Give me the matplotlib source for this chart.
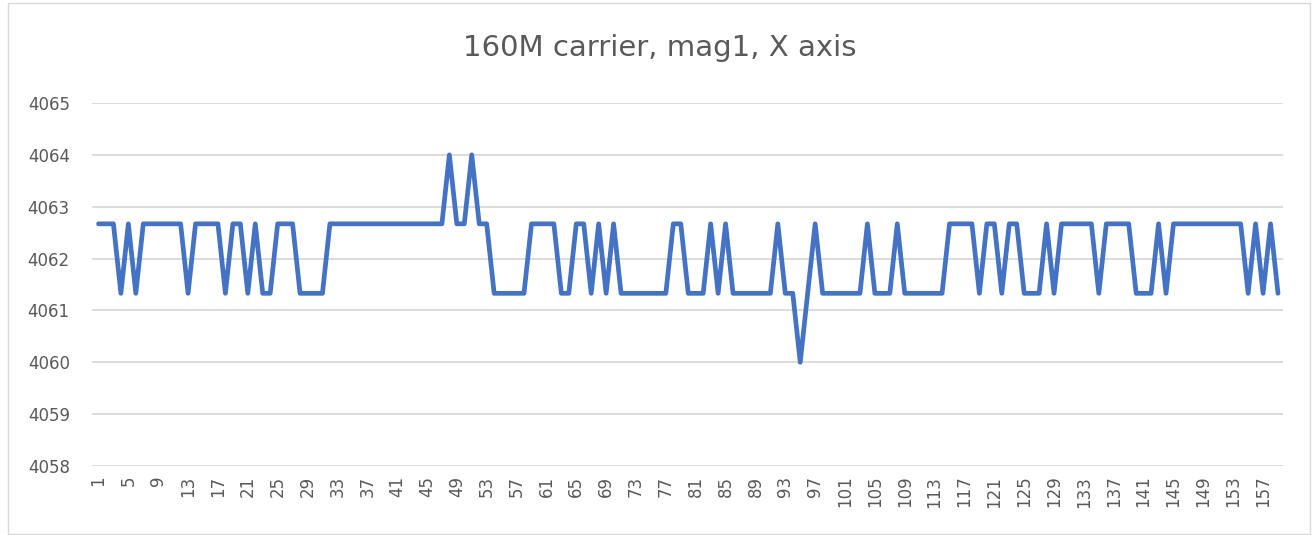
import numpy as np
import matplotlib
matplotlib.use("Agg")
import matplotlib.pyplot as plt
from matplotlib.patches import Rectangle

# readings of mag1 X axis, one per sample (1..159)
mag_x = [
    4062.67, 4062.67, 4062.67, 4061.33, 4062.67, 4061.33, 4062.67, 4062.67, 4062.67, 4062.67,
    4062.67, 4062.67, 4061.33, 4062.67, 4062.67, 4062.67, 4062.67, 4061.33, 4062.67, 4062.67,
    4061.33, 4062.67, 4061.33, 4061.33, 4062.67, 4062.67, 4062.67, 4061.33, 4061.33, 4061.33,
    4061.33, 4062.67, 4062.67, 4062.67, 4062.67, 4062.67, 4062.67, 4062.67, 4062.67, 4062.67,
    4062.67, 4062.67, 4062.67, 4062.67, 4062.67, 4062.67, 4062.67, 4064.00, 4062.67, 4062.67,
    4064.00, 4062.67, 4062.67, 4061.33, 4061.33, 4061.33, 4061.33, 4061.33, 4062.67, 4062.67,
    4062.67, 4062.67, 4061.33, 4061.33, 4062.67, 4062.67, 4061.33, 4062.67, 4061.33, 4062.67,
    4061.33, 4061.33, 4061.33, 4061.33, 4061.33, 4061.33, 4061.33, 4062.67, 4062.67, 4061.33,
    4061.33, 4061.33, 4062.67, 4061.33, 4062.67, 4061.33, 4061.33, 4061.33, 4061.33, 4061.33,
    4061.33, 4062.67, 4061.33, 4061.33, 4060.00, 4061.33, 4062.67, 4061.33, 4061.33, 4061.33,
    4061.33, 4061.33, 4061.33, 4062.67, 4061.33, 4061.33, 4061.33, 4062.67, 4061.33, 4061.33,
    4061.33, 4061.33, 4061.33, 4061.33, 4062.67, 4062.67, 4062.67, 4062.67, 4061.33, 4062.67,
    4062.67, 4061.33, 4062.67, 4062.67, 4061.33, 4061.33, 4061.33, 4062.67, 4061.33, 4062.67,
    4062.67, 4062.67, 4062.67, 4062.67, 4061.33, 4062.67, 4062.67, 4062.67, 4062.67, 4061.33,
    4061.33, 4061.33, 4062.67, 4061.33, 4062.67, 4062.67, 4062.67, 4062.67, 4062.67, 4062.67,
    4062.67, 4062.67, 4062.67, 4062.67, 4061.33, 4062.67, 4061.33, 4062.67, 4061.33,
]
samples = list(range(1, len(mag_x) + 1))
y_ticks = [4058, 4059, 4060, 4061, 4062, 4063, 4064, 4065]
title = "160M carrier, mag1, X axis"

W, H = 1312, 535
fig = plt.figure(figsize=(W / 100, H / 100), dpi=100)
fig.patch.set_facecolor("white")

# chart area border
fig.patches.append(Rectangle((8 / W, 1 / H), (W - 10) / W, (H - 4) / H,
                             transform=fig.transFigure, fill=False,
                             edgecolor="#D9D9D9", linewidth=1))

ax = fig.add_axes([92 / W, (H - 466) / H, (1283 - 92) / W, (466 - 103) / H])

ax.plot(samples, mag_x, color="#4472C4", linewidth=3.4,
        solid_joinstyle="round", solid_capstyle="round", zorder=3)

ax.set_ylim(4058, 4065)
ax.set_yticks(y_ticks)
ax.set_xlim(0.13, 159.67)
ax.set_xticks(samples[::4])
ax.set_xticklabels([str(s) for s in samples[::4]], rotation=90)

ax.grid(axis="y", color="#D9D9D9", linewidth=1.3)
ax.set_axisbelow(True)
for s in ax.spines.values():
    s.set_visible(False)
ax.tick_params(axis="y", length=0, pad=16, labelsize=12, labelcolor="#595959")
ax.tick_params(axis="x", length=0, pad=7, labelsize=12, labelcolor="#595959")

fig.text(0.503, 1 - 48 / H, title, ha="center", va="center",
         fontsize=21, color="#595959")

fig.savefig("out.png", dpi=100)
